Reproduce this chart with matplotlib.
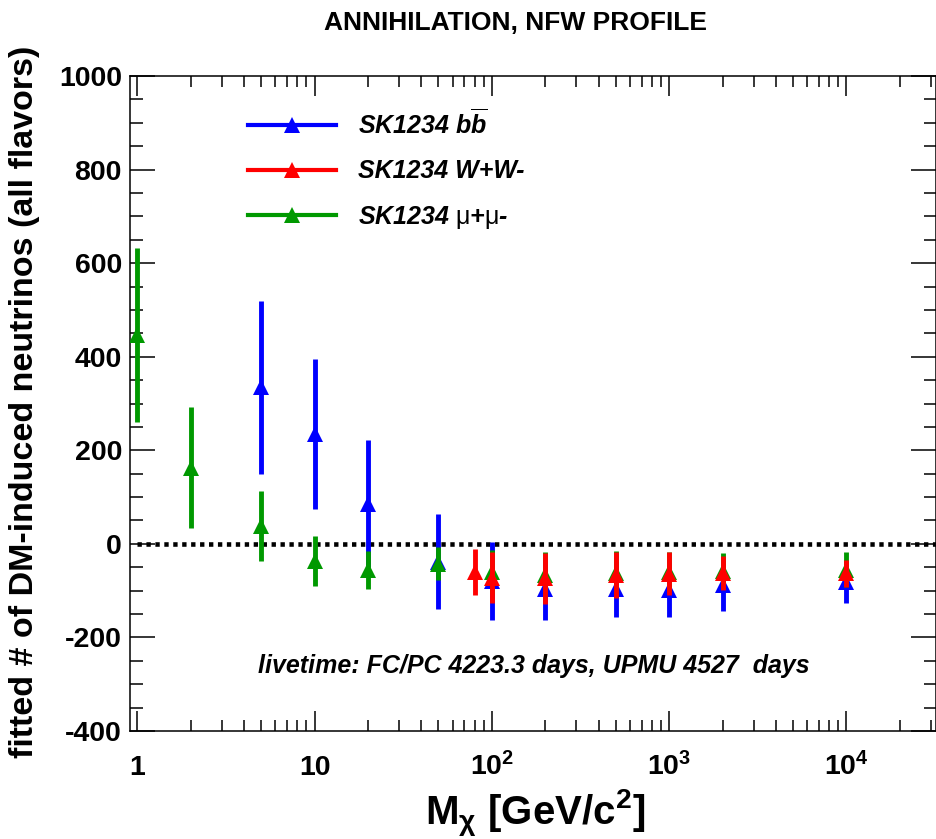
import numpy as np
import matplotlib
matplotlib.use("Agg")
import matplotlib.pyplot as plt
from matplotlib.lines import Line2D
from matplotlib.ticker import FixedLocator, LogLocator, NullFormatter, MultipleLocator

plt.rcParams['font.family'] = ['Liberation Sans', 'DejaVu Sans']
plt.rcParams['mathtext.fontset'] = 'custom'
plt.rcParams['mathtext.rm'] = 'Liberation Sans'
plt.rcParams['mathtext.it'] = 'Liberation Sans:italic'
plt.rcParams['mathtext.bf'] = 'Liberation Sans:bold'
plt.rcParams['mathtext.default'] = 'regular'
plt.rcParams['axes.unicode_minus'] = False

# ---- fitted signal per dark-matter mass [GeV/c^2] ----
mass_bb = [5, 10, 20, 50, 100, 200, 500, 1000, 2000, 10000]
fit_bb = [335, 235, 86, -38, -80, -97, -97, -99, -88, -81]
err_bb = [185, 160, 136, 102, 83, 65, 59, 57, 55, 45]

mass_ww = [80, 100, 200, 500, 1000, 2000, 10000]
fit_ww = [-60, -72, -74, -66, -64, -62, -63]
err_ww = [50, 55, 55, 49, 46, 36, 29]

mass_mumu = [1, 2, 5, 10, 20, 50, 100, 200, 500, 1000, 2000, 10000]
fit_mumu = [447, 163, 39, -37, -56, -42, -60, -66, -62, -60, -57, -55]
err_mumu = [186, 129, 75, 54, 40, 36, 47, 48, 47, 42, 38, 38]

series_labels = [r'SK1234 $b\overline{b}$', 'SK1234 W+W-',
                 r'SK1234 $\mathrm{\mu}$+$\mathrm{\mu}$-']
series_colors = ['#0000ff', '#ff0000', '#009900']

xtick_vals = [1, 10, 100, 1000, 10000]
xtick_labels = ['1', '10', r'$10^{2}$', r'$10^{3}$', r'$10^{4}$']
ytick_vals = [-400, -200, 0, 200, 400, 600, 800, 1000]
ytick_labels = ['-400', '-200', '0', '200', '400', '600', '800', '1000']

x_range = (0.91, 3.2e4)
y_range = (-400, 1000)

fig = plt.figure(figsize=(9.37, 8.39), dpi=100)
ax = fig.add_axes([130 / 937, 1 - 731 / 839, 806 / 937, 655 / 839])

# zero reference line
ax.hlines(0, 1, x_range[1], colors='black', linewidth=3.3,
          linestyles=(0, (0.95, 1.0)), zorder=2)

common = dict(fmt='^', ms=11.5, mew=0, elinewidth=3.5, capsize=4, capthick=2)
ax.errorbar(mass_bb, fit_bb, yerr=err_bb, color=series_colors[0], zorder=3, **common)
ax.errorbar(mass_mumu, fit_mumu, yerr=err_mumu, color=series_colors[2], zorder=4, **common)
ax.errorbar(mass_ww, fit_ww, yerr=err_ww, color=series_colors[1], zorder=5, **common)

ax.set_xscale('log')
ax.set_xlim(*x_range)
ax.set_ylim(*y_range)

ax.xaxis.set_major_locator(FixedLocator(xtick_vals))
ax.set_xticklabels(xtick_labels)
ax.xaxis.set_minor_locator(LogLocator(base=10, subs=np.arange(2, 10), numticks=20))
ax.xaxis.set_minor_formatter(NullFormatter())
ax.yaxis.set_major_locator(FixedLocator(ytick_vals))
ax.set_yticklabels(ytick_labels)
ax.yaxis.set_minor_locator(MultipleLocator(50))

for s in ax.spines.values():
    s.set_linewidth(1.1)

ax.tick_params(which='both', direction='in', top=True, right=True, width=1.1)
ax.tick_params(axis='y', which='major', length=18, pad=5.8, labelsize=20.5)
ax.tick_params(axis='y', which='minor', length=9)
ax.tick_params(axis='x', which='major', length=14.5, pad=31.7, labelsize=20.5)
ax.tick_params(axis='x', which='minor', length=8)
for lab in ax.get_xticklabels():
    lab.set_fontweight('bold')
    lab.set_va('baseline')
for lab in ax.get_yticklabels():
    lab.set_fontweight('bold')

ax.set_xlabel(r'M$_{\chi}$ [GeV/c$^{2}$]', fontsize=29, fontweight='bold')
ax.xaxis.set_label_coords(0.5025, (731 - 825) / 655)
ax.xaxis.label.set_va('baseline')

ax.set_ylabel('fitted # of DM-induced neutrinos (all flavors)',
              fontsize=24.5, fontweight='bold')
ax.yaxis.set_label_coords((25 - 130) / 806, (731 - 402) / 655)
ax.yaxis.label.set_va('center')

fig.text(516 / 937, 1 - 23 / 839, 'ANNIHILATION, NFW PROFILE',
         ha='center', va='center', fontsize=19, fontweight='bold')

fig.text(534 / 937, 1 - 666 / 839, 'livetime: FC/PC 4223.3 days, UPMU 4527  days',
         ha='center', va='center', fontsize=18, fontweight='bold', fontstyle='italic')

handles = [Line2D([], [], color=c, lw=3, marker='^', ms=11, mew=0)
           for c in series_colors]
ax.legend(handles, series_labels, loc='upper left',
          bbox_to_anchor=(248 / 937, 1 - 109 / 839), bbox_transform=fig.transFigure,
          frameon=False, borderpad=0, borderaxespad=0, handlelength=3.5,
          handletextpad=0.88, labelspacing=0.82,
          prop={'family': 'Liberation Sans', 'weight': 'bold',
                'style': 'italic', 'size': 18})

fig.savefig('out.png', dpi=100)
